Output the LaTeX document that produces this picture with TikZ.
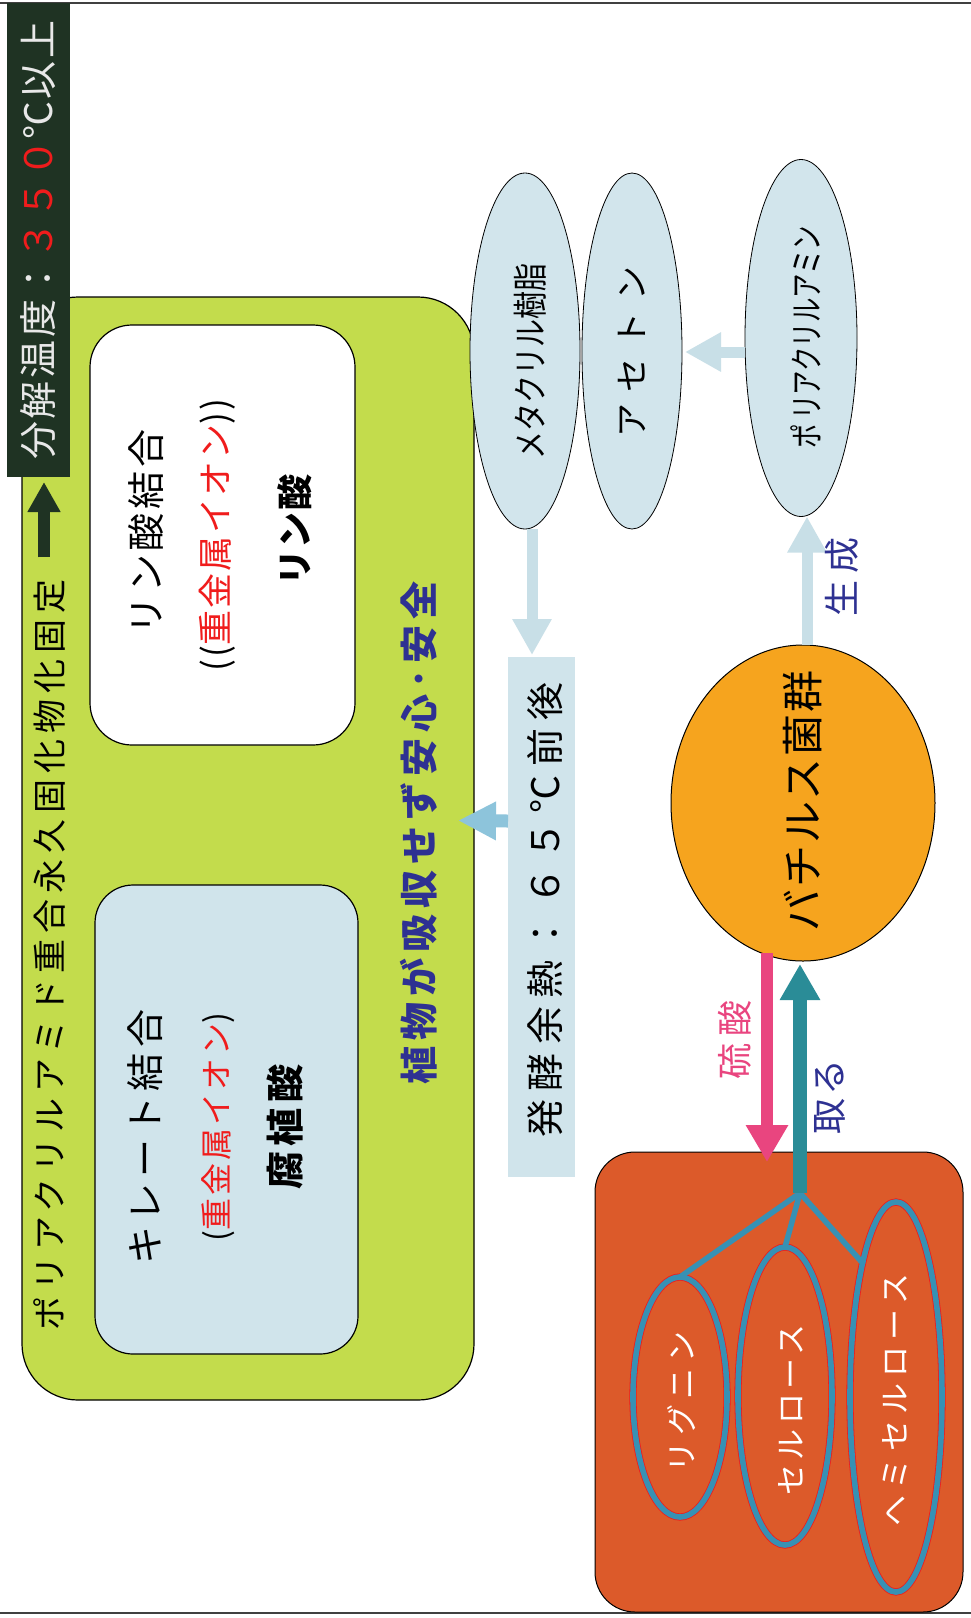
\documentclass[tikz,border=0pt]{standalone}
\usepackage{fontspec}
\usepackage{graphicx}
\setmainfont{Noto Sans CJK JP}
\usetikzlibrary{arrows.meta,shapes.geometric,calc}
\definecolor{greenfill}{HTML}{C3DC4C}
\definecolor{boxblue}{HTML}{D0E4EB}
\definecolor{ellblue}{HTML}{D2E5EC}
\definecolor{arrowblue}{HTML}{C8DFE7}
\definecolor{skyarrow}{HTML}{8DC4DB}
\definecolor{darkbox}{HTML}{1F3323}
\definecolor{orangefill}{HTML}{F6A41E}
\definecolor{rust}{HTML}{DC5A2A}
\definecolor{navy}{HTML}{2E3192}
\definecolor{pinkc}{HTML}{E9457F}
\definecolor{tealc}{HTML}{2A8C97}
\definecolor{treeblue}{HTML}{3791B4}
\definecolor{redtxt}{HTML}{F01C1C}
\definecolor{lighttxt}{HTML}{E8E8E8}
\newcommand{\jt}[3]{{\fontsize{#1pt}{#1pt}\selectfont\addfontfeature{LetterSpace=#2}#3}}
\begin{document}
\begin{tikzpicture}[x=1pt,y=-1pt,
  every node/.style={inner sep=0pt,outer sep=0pt},
  lbl/.style={rotate=90,anchor=center},
  rbox/.style={rotate=90,draw=black,line width=1.2pt},
  ell/.style={ellipse,rotate=90,draw=black,line width=0.8pt,fill=ellblue},
  oell/.style={ellipse,rotate=90,preaction={draw=redtxt,line width=7.2pt},draw=treeblue,line width=5.6pt},
  tree/.style={draw=treeblue,line width=5.5pt,line cap=round},
  larrow/.style={draw=arrowblue,line width=11pt,-{Triangle[width=37pt,length=36pt]}},
  sarrow/.style={draw=skyarrow,line width=13pt,-{Triangle[width=36pt,length=38pt]}},
  barrow/.style={draw=darkbox,line width=12pt,-{Triangle[width=31pt,length=30pt]}},
  parrow/.style={draw=pinkc,line width=12pt,-{Triangle[width=40pt,length=37pt]}},
  tarrow/.style={draw=tealc,line width=14pt,-{Triangle[width=38pt,length=36pt]}},
  rulestyle/.style={draw=black!75,line width=2pt}
]
\useasboundingbox (0,0) rectangle (971,1618);
\fill[white] (0,0) rectangle (971,1618);
\draw[rulestyle] (0,3) -- (971,3);
\draw[rulestyle] (0,1613) -- (971,1613);

% green frame and inner boxes
\node[rbox,fill=greenfill,rounded corners=56pt,minimum width=1103pt,minimum height=452pt] (green) at (248,848.5) {};
\node[rbox,fill=white,rounded corners=42pt,minimum width=420pt,minimum height=265pt] (wbox) at (222.5,535) {};
\node[rbox,fill=boxblue,rounded corners=38pt,minimum width=469pt,minimum height=263pt] (lbox) at (226.5,1119.5) {};

% dark temperature box
\node[rotate=90,fill=darkbox,minimum width=474pt,minimum height=63pt,text=lighttxt] (temp) at (38.5,240)
  {\jt{38}{7}{分解温度：{\color{redtxt}３５０}℃以上}};

\node[lbl] (poly) at (50,955) {\jt{34}{17.6}{ポリアクリルアミド重合永久固化物化固定}};

\node[lbl] (t1) at (146,532) {\jt{38}{10}{リン酸結合}};
\node[lbl,text=redtxt] (t2) at (217,535) {\jt{35}{6}{{\color{black}((}重金属イオン{\color{black}))}}};
\node[lbl] (t3) at (295,530) {\bfseries\jt{36}{3}{リン酸}};

\node[lbl] (t4) at (145,1137) {\jt{38}{14}{キレート結合}};
\node[lbl,text=redtxt] (t5) at (218,1127) {\jt{32}{9}{{\color{black}(}重金属イオン{\color{black})}}};
\node[lbl] (t6) at (285,1127) {\bfseries\jt{38}{15}{腐植酸}};

\node[lbl,text=navy] (safe) at (419,833) {\bfseries\jt{38}{16}{植物が吸収せず安心･安全}};

% heat box
\node[rotate=90,fill=boxblue,minimum width=520pt,minimum height=67pt] (heat) at (541.5,917) {};
\node[lbl] (heattxt) at (545,910) {\jt{38}{22}{発酵余熱：６５℃前後}};

% ellipses
\node[ell,minimum width=356pt,minimum height=110pt] (meth) at (525,351) {};
\node[ell,minimum width=356pt,minimum height=100pt] (acet) at (632,351) {};
\node[ell,minimum width=357pt,minimum height=112pt] (pam) at (801,338) {};
\node[lbl] (methtxt) at (530,361) {\scalebox{0.8}[1]{\jt{35}{0}{メタクリル樹脂}}};
\node[lbl] (acettxt) at (632,352) {\jt{34}{35}{アセトン}};
\node[lbl] (pamtxt) at (806,337) {\scalebox{0.72}[1]{\jt{34}{0}{ポ\kern6pt リアクリルアミン}}};

% bacillus
\node[ellipse,rotate=90,draw=black,line width=1pt,fill=orangefill,minimum width=316pt,minimum height=264pt] (bac) at (803,803) {};
\node[lbl] (bactxt) at (803,801) {\jt{42}{4}{バチルス菌群}};

% source box
\node[rotate=90,rounded corners=40pt,fill=rust,draw=black,line width=1pt,minimum width=460pt,minimum height=368pt] (src) at (779,1382) {};
\node[oell,minimum width=240pt,minimum height=94pt] (lig) at (680,1397) {};
\node[oell,minimum width=298pt,minimum height=94pt] (cel) at (785,1396) {};
\node[oell,minimum width=390pt,minimum height=92pt] (hemi) at (896,1397) {};
\node[lbl,text=white] (ligtxt) at (682,1402) {\jt{31}{18}{リグニン}};
\node[lbl,text=white] (celtxt) at (791,1410) {\jt{31}{14}{セルロース}};
\node[lbl,text=white] (hemitxt) at (895,1400) {\jt{31}{20}{ヘミセルロース}};

\coordinate (J) at (800,1193);
\draw[tree] (J) -- (lig.east);
\draw[tree] (J) -- (cel.east);
\draw[tree] (J) -- (hemi.14);

% arrows
\draw[barrow] ($(poly.east)+(-6,-22)$) -- ($(temp.west)+(5.5,5)$);
\draw[larrow] ($(meth.west)+(7,0)$) -- ($(heat.east)+(-9.5,-2)$);
\draw[larrow] ($(pam.north)+(0,14)$) -- ($(acet.south)+(3,1)$);
\draw[larrow] ($(bac.east)+(4,0)$) -- ($(pam.west)+(6,0)$);
\draw[sarrow] ($(heat.north)+(0,-96)$) -- ($(green.south)+(-16,-28)$);
\draw[parrow] ($(bac.west)+(-36,-8)$) -- ($(src.east)+(-12,10)$);
\draw[tarrow] (J) -- ($(bac.west)+(-3,3)$);

% arrow labels
\node[lbl,text=pinkc] (lsulf) at (735,1040) {\jt{36}{20}{硫酸}};
\node[lbl,text=navy] (ltake) at (830,1097) {\jt{36}{10}{取る}};
\node[lbl,text=navy] (lgen) at (842,577) {\jt{36}{20}{生成}};
\end{tikzpicture}
\end{document}
